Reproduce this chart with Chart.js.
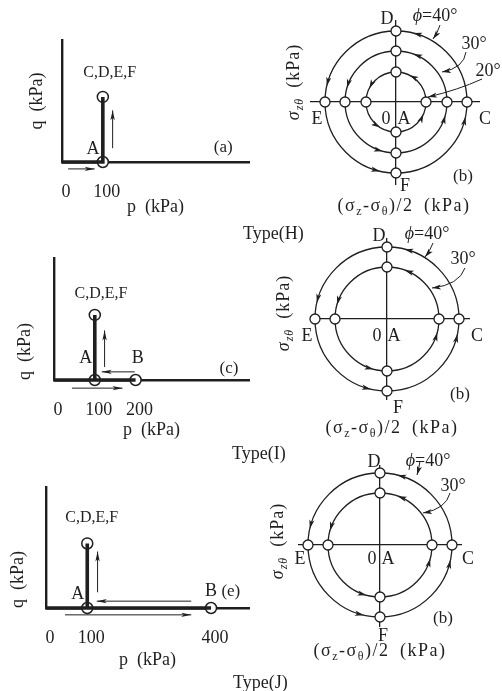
<!DOCTYPE html>
<html>
<head>
<meta charset="utf-8">
<script src="https://cdn.jsdelivr.net/npm/chart.js@4.4.1/dist/chart.umd.min.js"></script>
<style>
  html, body { margin: 0; padding: 0; background: #fff; }
  body { width: 502px; height: 691px; position: relative; overflow: hidden;
         font-family: "Liberation Serif", "DejaVu Serif", serif; color: #1f1f1f; }
  canvas { position: absolute; }
  .type { position: absolute; font-size: 18px; line-height: 22px; white-space: nowrap; }
</style>
</head>
<body>
<canvas id="pqA" width="256" height="220" style="left:0;top:0"></canvas>
<canvas id="pqC" width="256" height="240" style="left:0;top:220px"></canvas>
<canvas id="pqE" width="256" height="231" style="left:0;top:460px"></canvas>
<canvas id="mohrH" width="252" height="220" style="left:250px;top:0"></canvas>
<canvas id="mohrI" width="252" height="220" style="left:250px;top:220px"></canvas>
<canvas id="mohrJ" width="252" height="241" style="left:250px;top:450px"></canvas>
<div class="type" style="left:243px;top:222px">Type(H)</div>
<div class="type" style="left:232px;top:442px">Type(I)</div>
<div class="type" style="left:233px;top:671px">Type(J)</div>

<script>
// stress paths in the p-q plane (kPa)
const pathA_p = [0, 100, 100];
const pathA_q = [0, 0, 160];
const pathC_p = [0, 200, 100, 100];
const pathC_q = [0, 0, 0, 160];
const pathE_p = [0, 400, 100, 100];
const pathE_q = [0, 0, 0, 160];

// state points A, B, C-F (open circles)
const ptsA_p = [100, 100];
const ptsA_q = [0, 160];
const ptsC_p = [100, 200, 100];
const ptsC_q = [0, 0, 160];
const ptsE_p = [100, 400, 100];
const ptsE_q = [0, 0, 160];

// p axis tick labels
const ticksA = [0, 100];
const ticksC = [0, 100, 200];
const ticksE = [0, 100, 400];

// Mohr circle radii (kPa) for phi = 40, 30, 20 deg
const phiLabels = ['40°', '30°', '20°'];
const radiiH = [71, 51, 30];
const radiiI = [72, 52];
const radiiJ = [72, 52];

const INK = '#1f1f1f';
const FONT = '"Liberation Serif", "DejaVu Serif", serif';

// annotations per canvas: arrows, curved leaders, labels (data units)
const notes = {
    pqA: {
        arrows: [[15, -17, 80, -17], [124, 34, 124, 127]],
        texts: [
            {x: 117, y: 224, s: 'C,D,E,F', size: 16},
            {x: 76, y: 34, s: 'A'},
            {x: 395, y: 39, s: '(a)', size: 17}
        ]
    },
    pqC: {
        arrows: [[44, -20, 168, -20], [198, 20, 117, 20], [124, 32, 124, 122]],
        texts: [
            {x: 115, y: 216, s: 'C,D,E,F', size: 16},
            {x: 78, y: 57, s: 'A'},
            {x: 205, y: 57, s: 'B'},
            {x: 429, y: 32, s: '(c)', size: 17}
        ]
    },
    pqE: {
        arrows: [[46, -17, 352, -17], [352, 17, 123, 17], [125, 39, 125, 140]],
        texts: [
            {x: 111, y: 226, s: 'C,D,E,F', size: 16},
            {x: 77, y: 37, s: 'A'},
            {x: 400, y: 45, s: 'B'},
            {x: 448, y: 45, s: '(e)', size: 17}
        ]
    },
    mohrH: {
        turns: [[76, 167, 257, 348], [70, 164, 255, 345], [63, 153, 238, 336]],
        leaders: [[44, 77, 42, 70, 37, 63], [70, 50, 68, 34, 46, 30], [86, 23, 62, 12, 32, 5]],
        texts: [
            {x: -9, y: 84, s: 'D'},
            {x: 39, y: 87, segs: [['ϕ', 0, 1], ['=' + phiLabels[0]]]},
            {x: 78, y: 59, s: phiLabels[1]},
            {x: 92, y: 32, s: phiLabels[2]},
            {x: -79, y: -16, s: 'E'}, {x: 89, y: -16, s: 'C'},
            {x: -10, y: -16, s: '0'}, {x: 8, y: -16, s: 'A'},
            {x: 67, y: -73, s: '(b)', size: 17}, {x: 9, y: -83, s: 'F'}
        ],
        xTitle: [8, -103], yTitle: [-103, 20]
    },
    mohrI: {
        turns: [[76, 167, 257, 348], [70, 164, 255, 345]],
        leaders: [[46, 76, 43, 68, 38, 62], [78, 51, 72, 34, 45, 31]],
        texts: [
            {x: -8, y: 84, s: 'D'},
            {x: 40, y: 86, segs: [['ϕ', 0, 1], ['=' + phiLabels[0]]]},
            {x: 76, y: 61, s: phiLabels[1]},
            {x: -80, y: -16, s: 'E'}, {x: 90, y: -16, s: 'C'},
            {x: -10, y: -16, s: '0'}, {x: 7, y: -16, s: 'A'},
            {x: 73, y: -74, s: '(b)', size: 17}, {x: 11, y: -88, s: 'F'}
        ],
        xTitle: [5, -108], yTitle: [-104, 6]
    },
    mohrJ: {
        turns: [[76, 167, 257, 348], [70, 164, 255, 345]],
        leaders: [[40, 84, 39, 77, 37, 70], [70, 52, 66, 36, 43, 32]],
        texts: [
            {x: -6, y: 84, s: 'D'},
            {x: 48, y: 85, segs: [['ϕ', 0, 1], ['=' + phiLabels[0]]]},
            {x: 73, y: 60, s: phiLabels[1]},
            {x: -80, y: -13, s: 'E'}, {x: 88, y: -13, s: 'C'},
            {x: -8, y: -13, s: '0'}, {x: 8, y: -13, s: 'A'},
            {x: 63, y: -72, s: '(b)', size: 17}, {x: 3, y: -90, s: 'F'}
        ],
        xTitle: [0, -105], yTitle: [-103, 4]
    }
};

function arrowHead(ctx, x, y, ang, len, half) {
    ctx.save();
    ctx.translate(x, y);
    ctx.rotate(ang);
    ctx.beginPath();
    ctx.moveTo(0, 0);
    ctx.lineTo(-len, -half);
    ctx.lineTo(-len * 0.75, 0);
    ctx.lineTo(-len, half);
    ctx.closePath();
    ctx.fill();
    ctx.restore();
}

// draws text made of pieces [text, subscript, italic], centred on x,y
function drawSegs(ctx, segs, x, y, size, rot, spacing) {
    ctx.save();
    ctx.translate(x, y);
    if (rot) ctx.rotate(rot * Math.PI / 180);
    ctx.textAlign = 'left';
    ctx.textBaseline = 'alphabetic';
    ctx.letterSpacing = (spacing || 0) + 'px';
    const parts = segs.map(s => {
        const sz = s[1] ? Math.round(size * 0.68) : size;
        const f = (s[2] ? 'italic ' : '') + sz + 'px ' + FONT;
        ctx.font = f;
        return {t: s[0], f: f, w: ctx.measureText(s[0]).width, dy: s[1] ? size * 0.22 : 0};
    });
    const total = parts.reduce((a, p) => a + p.w, 0);
    let cx = -total / 2;
    parts.forEach(p => {
        ctx.font = p.f;
        ctx.fillText(p.t, cx, size * 0.35 + p.dy);
        cx += p.w;
    });
    ctx.restore();
}

const sketch = {
    id: 'sketch',
    beforeDatasetsDraw(chart) {
        const n = notes[chart.canvas.id];
        if (!n.radii) return;
        const {ctx, scales: {x, y}} = chart;
        const cx = x.getPixelForValue(0), cy = y.getPixelForValue(0);
        ctx.save();
        ctx.strokeStyle = INK;
        ctx.fillStyle = INK;
        ctx.lineWidth = 1.3;
        n.radii.forEach((r, i) => {
            const rp = x.getPixelForValue(r) - cx;
            ctx.beginPath();
            ctx.arc(cx, cy, rp, 0, Math.PI * 2);
            ctx.stroke();
            (n.turns[i] || []).forEach(a => {
                const t = a * Math.PI / 180;
                arrowHead(ctx, cx + rp * Math.cos(t), cy - rp * Math.sin(t),
                    Math.atan2(-Math.cos(t), -Math.sin(t)), 9, 2.6);
            });
        });
        ctx.restore();
    },
    afterDraw(chart) {
        const n = notes[chart.canvas.id];
        const {ctx, scales: {x, y}} = chart;
        const px = v => x.getPixelForValue(v), py = v => y.getPixelForValue(v);
        ctx.save();
        ctx.strokeStyle = INK;
        ctx.fillStyle = INK;
        ctx.lineWidth = 1;
        (n.arrows || []).forEach(a => {
            const x0 = px(a[0]), y0 = py(a[1]), x1 = px(a[2]), y1 = py(a[3]);
            ctx.beginPath();
            ctx.moveTo(x0, y0);
            ctx.lineTo(x1, y1);
            ctx.stroke();
            arrowHead(ctx, x1, y1, Math.atan2(y1 - y0, x1 - x0), 10, 2.2);
        });
        (n.leaders || []).forEach(a => {
            const x0 = px(a[0]), y0 = py(a[1]), qx = px(a[2]), qy = py(a[3]), x1 = px(a[4]), y1 = py(a[5]);
            ctx.beginPath();
            ctx.moveTo(x0, y0);
            ctx.quadraticCurveTo(qx, qy, x1, y1);
            ctx.stroke();
            arrowHead(ctx, x1, y1, Math.atan2(y1 - qy, x1 - qx), 9, 2.6);
        });
        (n.texts || []).forEach(t => {
            drawSegs(ctx, t.segs || [[t.s]], px(t.x), py(t.y), t.size || 18, 0, 0);
        });
        if (n.xTitle) {
            drawSegs(ctx, [['(σ'], ['z', 1], ['-σ'], ['θ', 1], [')/2\u2002(kPa)']],
                px(n.xTitle[0]), py(n.xTitle[1]), 18, 0, 1.5);
            drawSegs(ctx, [['σ', 0, 1], ['zθ', 1, 1], ['\u2002(kPa)']],
                px(n.yTitle[0]), py(n.yTitle[1]), 18, -90, 1);
        }
        ctx.restore();
    }
};

function pts(ps, qs) {
    return ps.map((p, i) => ({x: p, y: qs[i]}));
}

function pqChart(id, path_p, path_q, pt_p, pt_q, ticks, lay) {
    return new Chart(document.getElementById(id), {
        type: 'scatter',
        data: {
            datasets: [{
                data: pts(path_p, path_q),
                showLine: true,
                borderColor: INK,
                borderWidth: 3.6,
                pointRadius: 0,
                clip: false
            }, {
                data: pts(pt_p, pt_q),
                pointRadius: 5.5,
                pointBackgroundColor: '#fff',
                pointBorderColor: INK,
                pointBorderWidth: 1.5,
                clip: false
            }]
        },
        options: {
            responsive: false,
            animation: false,
            events: [],
            layout: {padding: {left: 0, right: 0, top: lay.top, bottom: 0}},
            plugins: {legend: {display: false}, tooltip: {enabled: false}},
            scales: {
                x: {
                    type: 'linear', min: 0, max: lay.xMax,
                    grid: {display: false},
                    border: {display: true, color: INK, width: 2.4},
                    afterBuildTicks: s => { s.ticks = ticks.map(v => ({value: v})); },
                    afterFit: s => { s.height = lay.xH; },
                    ticks: {color: INK, font: {family: FONT, size: 18}, padding: 11, labelOffset: 4, maxRotation: 0},
                    title: {display: true, text: 'p\u2002(kPa)', color: INK,
                            font: {family: FONT, size: 18}, padding: {top: 0, bottom: lay.pb}}
                },
                y: {
                    type: 'linear', min: 0, max: 300,
                    grid: {display: false},
                    border: {display: true, color: INK, width: 2.4},
                    ticks: {display: false},
                    afterFit: s => { s.width = lay.yW; },
                    title: {display: true, text: 'q\u2002(kPa)', color: INK, align: lay.qAlign,
                            font: {family: FONT, size: 18}, padding: {top: lay.pt, bottom: 0}}
                }
            }
        },
        plugins: [sketch]
    });
}

function mohrChart(id, radii, lay) {
    notes[id].radii = radii;
    const marks = [];
    radii.forEach(r => {
        marks.push({x: r, y: 0}, {x: 0, y: r}, {x: -r, y: 0}, {x: 0, y: -r});
    });
    const zeroAxis = {
        type: 'linear',
        grid: {color: INK, lineWidth: 1.3, drawTicks: false},
        border: {display: false},
        ticks: {display: false},
        afterBuildTicks: s => { s.ticks = [{value: 0}]; }
    };
    return new Chart(document.getElementById(id), {
        type: 'scatter',
        data: {
            datasets: [{
                data: marks,
                pointRadius: 5,
                pointBackgroundColor: '#fff',
                pointBorderColor: INK,
                pointBorderWidth: 1.3,
                clip: false
            }]
        },
        options: {
            responsive: false,
            animation: false,
            events: [],
            layout: {padding: lay.pad},
            plugins: {legend: {display: false}, tooltip: {enabled: false}},
            scales: {
                x: Object.assign({}, zeroAxis, {min: lay.x[0], max: lay.x[1], afterFit: s => { s.height = 0; }}),
                y: Object.assign({}, zeroAxis, {min: lay.y[0], max: lay.y[1], afterFit: s => { s.width = 0; }})
            }
        },
        plugins: [sketch]
    });
}

pqChart('pqA', pathA_p, pathA_q, ptsA_p, ptsA_q, ticksA,
    {top: 40, xMax: 458, xH: 58, yW: 62, pb: 2, pt: 26, qAlign: 'center'});
pqChart('pqC', pathC_p, pathC_q, ptsC_p, ptsC_q, ticksC,
    {top: 38, xMax: 478, xH: 80, yW: 54, pb: 19, pt: 14, qAlign: 'start'});
pqChart('pqE', pathE_p, pathE_q, ptsE_p, ptsE_q, ticksE,
    {top: 27, xMax: 492, xH: 83, yW: 46, pb: 20, pt: 7, qAlign: 'start'});

mohrChart('mohrH', radiiH, {pad: {left: 60, top: 20, right: 22, bottom: 35}, x: [-86, 84], y: [-83, 82]});
mohrChart('mohrI', radiiI, {pad: {left: 60, top: 18, right: 32, bottom: 40}, x: [-77, 83], y: [-81, 81]});
mohrChart('mohrJ', radiiJ, {pad: {left: 48, top: 15, right: 40, bottom: 64}, x: [-82, 82], y: [-82, 80]});
</script>
</body>
</html>
